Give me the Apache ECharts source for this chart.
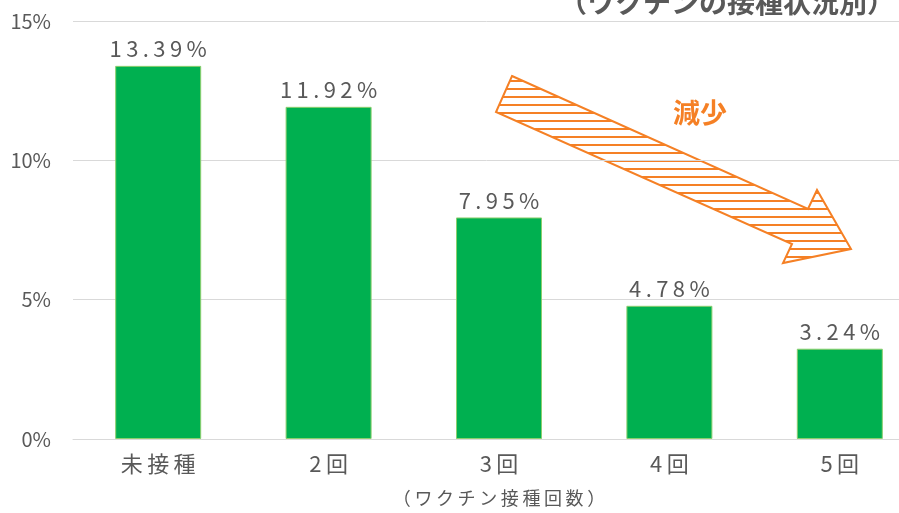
<!DOCTYPE html>
<html>
<head>
<meta charset="utf-8">
<script src="https://cdn.jsdelivr.net/npm/echarts@6/dist/echarts.min.js"></script>
<style>
  html, body { margin: 0; padding: 0; background: #fff; }
  #chart { width: 899px; height: 513px; }
</style>
</head>
<body>
<div id="chart"></div>
<script>
// 接種回数別の割合
const categories = ['未接種', '2回', '3回', '4回', '5回'];
const rates = [13.39, 11.92, 7.95, 4.78, 3.24];
const yTicks = [0, 5, 10, 15];

const FONT = '"Noto Sans CJK JP", "Noto Sans", sans-serif';
const GREY = '#595959';
const ORANGE = '#F58025';

// 矢印の横線パターン
function hatch() {
  const c = document.createElement('canvas');
  c.width = 8; c.height = 8;
  const ctx = c.getContext('2d');
  ctx.fillStyle = '#fff';
  ctx.fillRect(0, 0, 8, 8);
  ctx.fillStyle = ORANGE;
  ctx.fillRect(0, 0, 8, 2);
  return c;
}

// 文字間を少し空ける
function spaced(s) {
  return s.split('').join('\u2009');
}

const chart = echarts.init(document.getElementById('chart'));
chart.setOption({
  animation: false,
  textStyle: { fontFamily: FONT },
  grid: { left: 73, right: -26, top: 21, bottom: 74, outerBoundsMode: 'none', containLabel: false },
  xAxis: {
    type: 'category',
    data: categories,
    name: spaced('（ワクチン接種回数）'),
    nameLocation: 'middle',
    nameGap: 50,
    nameTextStyle: { fontSize: 18, color: GREY },
    axisTick: { show: false },
    axisLine: { lineStyle: { color: '#d9d9d9' } },
    axisLabel: {
      fontSize: 22, color: GREY, margin: 14,
      formatter: v => spaced(v)
    }
  },
  yAxis: {
    type: 'value',
    min: yTicks[0],
    max: yTicks[yTicks.length - 1],
    interval: 5,
    axisLabel: { formatter: '{value}%', fontSize: 20, color: GREY, margin: 22 },
    splitLine: { lineStyle: { color: '#d9d9d9' } },
    axisLine: { show: false },
    axisTick: { show: false }
  },
  series: [{
    type: 'bar',
    data: rates,
    barWidth: 86,
    itemStyle: { color: '#00B050', borderColor: '#8ccf6e', borderWidth: 1 },
    label: {
      show: true,
      position: 'top',
      distance: 6,
      fontSize: 22,
      color: GREY,
      formatter: p => spaced(p.value.toFixed(2) + '%')
    }
  }],
  graphic: [
    {
      type: 'text',
      right: 4, top: -12,
      style: {
        text: '（ワクチンの接種状況別）',
        font: 'bold 28px ' + FONT,
        fill: GREY
      }
    },
    {
      type: 'polygon',
      shape: {
        points: [[512, 76], [808, 209], [817, 190], [851, 249], [783, 263], [792, 244], [496, 112]]
      },
      style: {
        fill: { image: hatch(), repeat: 'repeat' },
        stroke: ORANGE,
        lineWidth: 2
      }
    },
    {
      type: 'text',
      x: 700, y: 113,
      style: {
        text: '減少',
        font: 'bold 27px ' + FONT,
        fill: ORANGE,
        align: 'center',
        verticalAlign: 'middle'
      }
    }
  ]
});
</script>
</body>
</html>
